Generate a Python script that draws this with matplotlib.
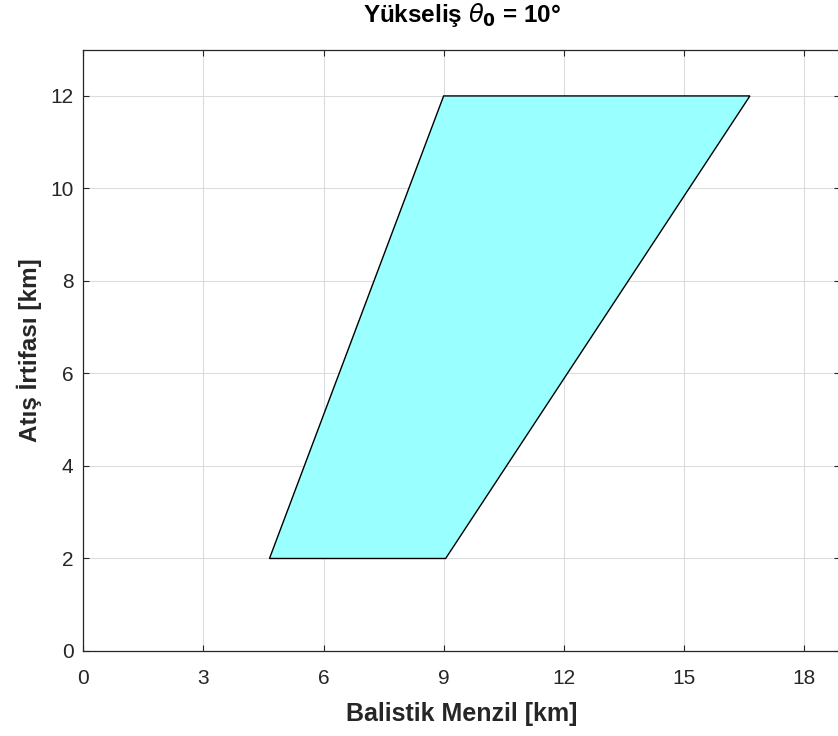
import matplotlib.pyplot as plt

plt.rcParams["font.family"] = ["Liberation Sans", "DejaVu Sans"]

# polygon corners (Balistik Menzil, Atış İrtifası) in km
menzil = [4.65, 9.05, 16.65, 9.0]
irtifa = [2, 2, 12, 12]

x_ticks = [0, 3, 6, 9, 12, 15, 18]
y_ticks = [0, 2, 4, 6, 8, 10, 12]

fig = plt.figure(figsize=(8.38, 7.36), dpi=100)
ax = fig.add_axes([0.0994, 0.1155, 0.903, 0.817])

ax.fill(menzil, irtifa, facecolor=(0.6, 1.0, 1.0), edgecolor="black", linewidth=1.0, zorder=3)

ax.set_xlim(0, 18.9)
ax.set_ylim(0, 13)
ax.set_xticks(x_ticks)
ax.set_yticks(y_ticks)
ax.grid(True, color="#dcdcdc", linewidth=0.8, zorder=0)
ax.set_axisbelow(True)
ax.tick_params(direction="in", top=True, right=True, labelsize=15, colors="#262626", length=4)
ax.tick_params(axis="x", pad=13)
ax.tick_params(axis="y", pad=7)
for s in ax.spines.values():
    s.set_color("#262626")
    s.set_linewidth(0.9)

ax.set_xlabel("Balistik Menzil [km]", fontsize=18, fontweight="bold", color="#262626", labelpad=10)
ax.set_ylabel("Atış İrtifası [km]", fontsize=17.5, fontweight="bold", color="#262626", labelpad=6)
ax.set_title(r"Yükseliş $\theta_\mathbf{0}$ = 10°", fontsize=17.5, fontweight="bold", pad=20)

fig.savefig("out.png", dpi=100)
